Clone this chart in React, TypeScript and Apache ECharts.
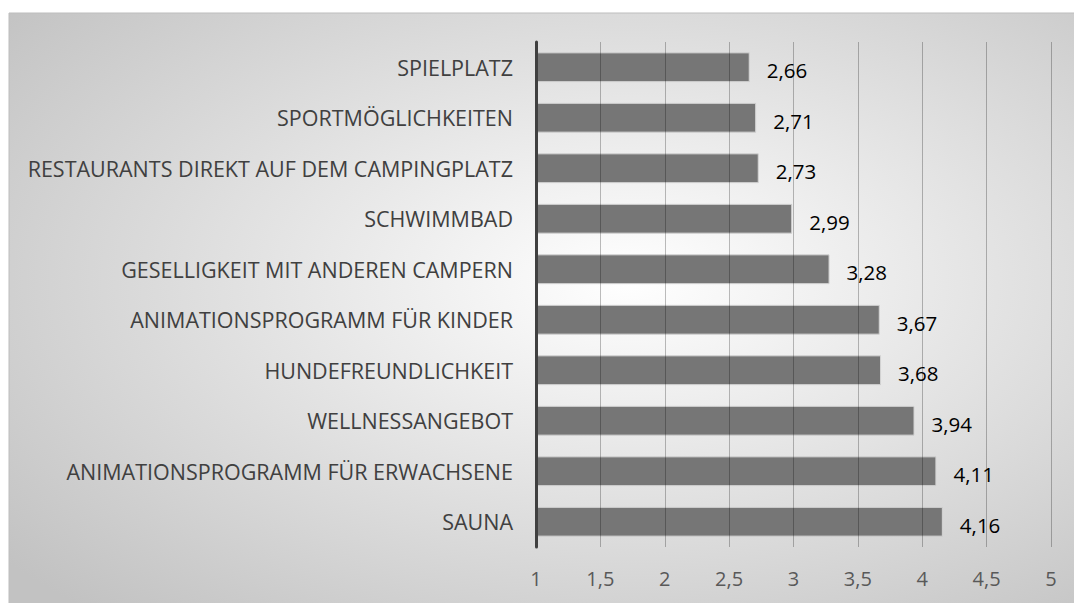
import React, { useEffect, useRef } from "react";
import * as echarts from "echarts";

const categories = [
  "SPIELPLATZ",
  "SPORTMÖGLICHKEITEN",
  "RESTAURANTS DIREKT AUF DEM CAMPINGPLATZ",
  "SCHWIMMBAD",
  "GESELLIGKEIT MIT ANDEREN CAMPERN",
  "ANIMATIONSPROGRAMM FÜR KINDER",
  "HUNDEFREUNDLICHKEIT",
  "WELLNESSANGEBOT",
  "ANIMATIONSPROGRAMM FÜR ERWACHSENE",
  "SAUNA",
];
const values = [2.66, 2.71, 2.73, 2.99, 3.28, 3.67, 3.68, 3.94, 4.11, 4.16];
const axisMin = 1;
const axisMax = 5;
const axisStep = 0.5;

const FONT = "'Open Sans'";
const comma = (v: number) => String(v).replace(".", ",");

export default function App() {
  const ref = useRef<HTMLDivElement>(null);
  useEffect(() => {
    if (!ref.current) return;
    const chart = echarts.init(ref.current, undefined, { renderer: "svg" });
    chart.setOption({
      animation: false,
      graphic: [
        {
          type: "rect",
          z: -10,
          silent: true,
          shape: { x: 9, y: 13, width: 1070, height: 595 },
          style: {
            fill: new echarts.graphic.RadialGradient(0.58, 0.45, 0.75, [
              { offset: 0, color: "#ffffff" },
              { offset: 1, color: "#c2c2c2" },
            ]),
            stroke: "#bdbdbd",
            lineWidth: 1,
          },
        },
      ],
      grid: { left: 536, right: 23, top: 42, bottom: 56, containLabel: false },
      xAxis: {
        type: "value",
        min: axisMin,
        max: axisMax,
        interval: axisStep,
        z: 3,
        axisLine: { show: false },
        axisTick: { show: false },
        splitLine: { show: true, lineStyle: { color: "rgba(0,0,0,0.26)", width: 1 } },
        axisLabel: {
          formatter: (v: number) => comma(v),
          color: "#595959",
          fontSize: 20,
          fontFamily: FONT,
          margin: 21,
        },
      },
      yAxis: {
        type: "category",
        data: categories,
        inverse: true,
        z: 4,
        axisTick: { show: false },
        axisLine: { show: true, lineStyle: { color: "#404040", width: 3 } },
        axisLabel: { color: "#404040", fontSize: 21.5, fontFamily: FONT, margin: 23 },
      },
      series: [
        {
          type: "bar",
          data: values,
          barCategoryGap: "41%",
          itemStyle: { color: "#767676", borderColor: "#d4d4d4", borderWidth: 1 },
          label: {
            show: true,
            position: "right",
            distance: 17,
            offset: [0, 3],
            color: "#000000",
            fontSize: 20.5,
            fontFamily: FONT,
            formatter: (p: any) => comma(p.value),
          },
        },
      ],
    });
    return () => chart.dispose();
  }, []);
  return (
    <div
      ref={ref}
      style={{ position: "absolute", left: 0, top: 0, width: 1074, height: 603 }}
    />
  );
}
